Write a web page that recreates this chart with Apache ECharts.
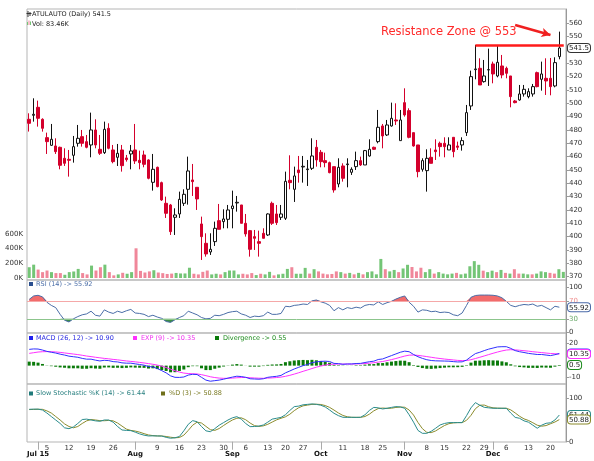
<!DOCTYPE html>
<html><head><meta charset="utf-8">
<script src="https://cdn.jsdelivr.net/npm/echarts@6/dist/echarts.min.js"></script>
<style>html,body{margin:0;padding:0;background:#fff}#c{width:594px;height:461px}</style>
</head><body><div id="c"></div>
<script>
// ---------- calendar (NSE trading days, 2015) ----------
const startDate = '2015-06-30', endDate = '2015-12-23';
const holidays = ['2015-09-17','2015-09-25','2015-10-02','2015-10-22','2015-11-12','2015-11-25'];
function tradingDays(s, e, hol) {
  const out = []; const d = new Date(s + 'T00:00:00Z'); const end = new Date(e + 'T00:00:00Z');
  while (d <= end) { const wd = d.getUTCDay(); const k = d.toISOString().slice(0, 10);
    if (wd !== 0 && wd !== 6 && hol.indexOf(k) < 0) out.push(k); d.setUTCDate(d.getUTCDate() + 1); }
  return out;
}
const dates = tradingDays(startDate, endDate, holidays);

// ---------- tick labels ----------
const weekLabels = {'2015-07-06':'5','2015-07-13':'12','2015-07-20':'19','2015-07-27':'26','2015-08-10':'9','2015-08-17':'16','2015-08-24':'23','2015-08-31':'30','2015-09-07':'6','2015-09-14':'13','2015-09-21':'20','2015-09-28':'27','2015-10-12':'11','2015-10-19':'18','2015-10-26':'25','2015-11-09':'8','2015-11-16':'15','2015-11-23':'22','2015-11-30':'29','2015-12-07':'6','2015-12-14':'13','2015-12-21':'20'};
const monthLabels = {'2015-07-02':'Jul 15','2015-08-03':'Aug','2015-09-02':'Sep','2015-10-05':'Oct','2015-11-02':'Nov','2015-12-02':'Dec'};
const priceTicks = [370,380,390,400,410,420,430,440,450,460,470,480,490,500,510,520,530,540,550,560];
const volTicks = [0,200000,400000,600000];
const rsiTicks = [0,30,70,100];
const macdTicks = [-10,0,10,20];
const stochTicks = [0,50,100];

// ---------- price (OHLC) ----------
const opens = [488,491,497,488,474.25,468.5,468,467,458.75,458,
461,470,475,471.25,468.75,480,465.5,463,481.25,465,
459.5,465,459,462,465,457.25,461.25,457.5,440.75,452,
440.5,425,423.75,414.5,417,425,435.5,442.5,437,409.5,
395,388.5,396.25,412,411.25,413,421,425.25,423.75,410,
404.5,400,396.25,402.5,401.25,425,417,414.5,413.75,442.25,
435.5,450,452.25,450.25,451.25,467,463.25,457,455.5,452.5,
439.5,453,454,448.25,452.5,457,453.75,460.5,467,471.25,
483,476.25,483,487.5,472,500.5,494.5,478,468.75,450.5,
449.5,459.5,465,470,470,465,474.5,468,468.75,478,
498,525.25,526.25,516.25,525,529.5,520.5,528,526.25,520.5,
501.75,502.5,507,505,507,523,518,518.75,518.75,513,535];
const closes = [485,491.75,488.75,481.25,471.25,473,463.75,453.5,455,457.25,
467.5,473.75,470,467,480,468.75,462.5,480.5,466.25,456.25,
462.5,453.25,457.75,464.25,456.75,455.5,454.25,443.75,450.5,437.5,
427.5,417.5,403.75,416.25,428,431.75,449.25,441.25,428.25,400,
387,390.5,406.25,405.5,413.25,420,423,425.75,410,402,
390.5,398.75,395,398.75,417,410,410.5,417,441.5,440.5,
445.5,448,452.75,450.75,460.5,457.5,456.25,455.5,448,435,
452,443.75,454.5,450.5,457,453.75,464.5,465.5,465.5,482,
475.5,483.75,488.75,486.75,487.5,491.25,474.5,468,448.75,457,
458.75,455,463.75,467.5,467.5,468.75,463.75,467,472,493,
520,525.75,513.75,520.5,525.25,522,530.75,521.25,522.5,505,
500.5,507,510.5,508.75,512.5,512.5,522,516.75,512.5,530.5,541.5];
const lows = [478.8,486.25,482.5,478.75,462,468,462,450.5,453,445,
455.5,467.5,467.5,466.25,459.5,466.25,461.25,462,465.5,455,
453,448.75,456.25,450.5,454.5,450.5,452,443,434.5,437,
426.75,414,401.25,401.25,414,423,424,430.5,420,382.5,
385,386.25,393,405.5,406.25,406.25,406.25,418.75,410,400,
385,390,385,398.75,400.5,408.75,408.75,412.5,412.5,435.5,
426,440.5,440.5,438,450,452.5,452,452,447.5,433,
437,441.25,437,446.25,450,453,453.75,460,465,470,
466.25,475.5,482.5,483.75,472,490,473.75,467.5,444.5,448.75,
433.75,455,457.5,460,459.5,465,459.5,465,464.5,475.5,
495,518,513.75,515.5,513,515,519.5,518.75,518.75,497,
500,502,505,503.75,505,512,509.5,506.25,506,512,533];
const highs = [492.5,503.75,502,488.75,478,484.5,473.75,467.5,466.25,465,
475.5,483.75,480,476.25,493,488,476.25,486.25,485,468.75,
469.5,468.75,461.25,468.75,484.5,464.5,464.5,458,462,452.5,
441.25,430,424.5,421.25,433.75,435.5,460,454.5,437,415,
402.5,402.5,411.25,424.5,420.5,423.75,434.5,430.5,423.75,417,
405,405,404.5,406.25,417.5,426.25,423.75,423.75,448.75,461,
452.5,460.5,460.5,457.5,473.75,472.5,465,463,456.25,452.5,
458.75,455,458.75,452,463.75,460,465,473,467.5,495,
484.5,487.5,500.5,500,495,511.25,496.25,478,468.75,458.75,
465.5,466.25,473,471.25,474.5,474.5,474.5,471.25,474.5,498.75,
524.5,543.75,533.75,532.5,541,531.25,543.75,536.25,527.5,520.5,
502.5,513.75,513.75,511.25,514.5,523.75,531.25,533.75,534,534.5,553.75];

// ---------- volume (thousands of shares) ----------
const volumeK = [147,182,115,80,102,80,67,67,44,80,
89,124,67,49,169,102,147,182,80,36,
49,71,58,80,405,97,75,90,106,75,
66,55,60,69,62,62,140,58,49,84,
102,49,58,49,80,102,102,49,58,49,
67,40,58,49,84,36,49,58,124,147,
58,58,138,60,120,90,60,50,55,90,
80,60,70,50,70,50,80,90,50,260,
120,90,110,80,130,180,150,90,140,80,
120,60,80,60,50,60,70,50,60,160,
230,180,100,80,100,80,110,70,60,120,
60,60,50,50,60,90,80,70,60,120,83.46];

// ---------- RSI(14) ----------
const rsi = [73.4,81,82.5,79,67,60,55,40,27,23,
30,35,39,41,47,38,36,50,45,42,
47,44,48,51,43,42,40,35,38,34,
31,24,22,28,33,37,47,43,39,33,
30,31,38,37,40,44,46,47,41,38,
33,36,35,37,45,40,40,42,58,57,
60,61,63,62,70,72,68,65,60,48,
55,50,55,53,56,54,60,62,61,68,
62,66,69,74,78,81,67,58,45,50,
49,46,47,44,45,44,39,37,43,60,
78,82,83,83,83,82.5,81,77,69,60,
57,60,62,61,63,58,60,55,50,58,55.92];

// ---------- MACD(26,12) and EXP(9) ----------
const macd = [14.6,15,14.9,14,12.8,12,11.3,10.3,9.5,8.5,
8,7.5,6.5,5.8,5.8,4.9,4.2,4.8,4.5,3.6,
3.3,2.5,2.2,2.2,1.6,1.0,0.4,-0.8,-1.2,-2.6,
-4.5,-6.5,-9.2,-10.5,-10.6,-10.2,-8.5,-7.8,-8,-10.5,
-13,-14,-13.5,-13,-12.2,-11.2,-10.3,-9.5,-9.8,-10.5,
-11.8,-12,-12.2,-11.8,-10.5,-10,-9.6,-8.8,-6.5,-4.8,
-3,-1.5,0,1,2.6,3.4,3.8,4,3.7,2,
1.8,1.2,1.5,1.5,1.9,2,2.8,3.5,4,5.5,
6,7.5,9,10.5,12,13,12.5,10,8,6.5,
5.3,4.6,4.3,4.2,4.1,4,3.6,3.3,3.4,5,
8,10.8,12,13.5,14.8,15.8,16.8,17,17,15.5,
13.5,12.5,11.8,11,10.5,10,10,9.5,9,9.8,10.9];
const signal = [11,11.6,12.2,12.5,12.6,12.5,12.3,11.9,11.4,10.9,
10.4,9.9,9.3,8.6,8.1,7.5,7,6.5,6.1,5.6,
5.2,4.7,4.2,3.8,3.4,2.9,2.4,1.8,1.2,0.5,
-0.5,-1.7,-3.2,-4.6,-5.8,-6.7,-7.1,-7.3,-7.5,-8.1,
-9,-10,-10.7,-11.2,-11.4,-11.4,-11.2,-10.9,-10.7,-10.6,
-10.9,-11.1,-11.3,-11.4,-11.2,-11,-10.7,-10.3,-9.6,-8.7,
-7.6,-6.4,-5.1,-3.9,-2.6,-1.4,-0.4,0.5,1.1,1.3,
1.4,1.4,1.4,1.4,1.5,1.6,1.9,2.2,2.6,3.2,
3.7,4.5,5.4,6.4,7.5,8.6,9.4,9.5,9.2,8.7,
8.1,7.5,6.9,6.4,5.9,5.5,5.1,4.7,4.5,4.6,
5.3,6.4,7.5,8.7,9.9,11.1,12.2,13.2,14,14.3,
14.1,13.8,13.4,13,12.5,12.1,11.7,11.3,10.9,10.7,10.35];

// ---------- Slow Stochastic ----------
const stochK = [74.6,75,75,73,66,58,50,42,32,30,
34,42,51,52,50,48,47,50,50,45,
35,27,26,25.5,22,18,15,13.2,13.5,13.2,
13,10,8,9,12,25,40,48.5,46,35,
25,23,30,38,44,50,55,57.7,52,42,
34.7,35,36,38.5,45,52,54,56,62,72,
80.8,82,85,86,87,86,84,80,73,65.4,
60,56.2,56,56.2,56,56.2,62,72,79,78,
75.4,77,79,80.8,80,77,62,45,26,19.3,
19.3,24,31,38.5,42,43.9,44,44,44,60,
78,90,84,79.2,78,77,76.9,77,76.9,66,
56,53.9,48,45,38,31,38,42.4,43.5,50,61.44];
const stochD = [74,74.3,74.7,74.5,71,66,58,50,41,35,
32,35,42,48,51,50,48.5,48.3,49,48,
43,36,29,26,24.5,22,18.5,15.5,14,13.3,
13.2,12,10.3,9,9.7,15,26,38,45,43,
35.3,27.7,26,30.3,37.3,44,50,54,55,50.6,
43,37,35.2,36.5,40,45.2,50.3,54,57.3,63.3,
71.6,78.3,82.6,84.3,86,86.3,85.7,83.3,79,72.8,
66.1,60.5,57.4,56.1,56.1,56.1,58,63.4,71,76.3,
77.5,76.8,77.1,78.9,79.9,79.3,73,61.3,44.3,30.1,
21.5,20.9,24.8,31.2,37.2,41.5,43.3,44,44,49.3,
60.7,76,84,84.4,80.4,78,77.3,77,77,73.3,
66.3,58.6,52.6,49,43.7,38,35.7,37.1,41.3,45.3,50.88];

// ---------- annotation values ----------
const lastPrice = 541.5, lastVolK = 83.46;
const resistanceStart = 101, resistanceLevel = 543.75;
const arrowFrom = [110, 558.7], arrowTo = [118, 551.2];
const rsiLast = 55.92, macdLast = 10.90, expLast = 10.35, divLast = 0.55, kLast = 61.44, dLast = 50.88;

// ---------- build ----------
const FONT = 'DejaVu Sans';
const L = 27, R = 24;
const cats = dates.concat(['pad']);
const candles = dates.map((d, i) => [opens[i], closes[i], lows[i], highs[i]]);
const RED = '#d4002c';
const volData = volumeK.map((v, i) => ({
  value: v * 1000,
  itemStyle: { color: (i === 0 || closes[i] >= closes[i - 1]) ? '#74c576' : '#f0879a' }
}));
const divergence = macd.map((v, i) => +(v - signal[i]).toFixed(2));

function xAx(gi, extra) {
  return Object.assign({ type: 'category', gridIndex: gi, data: cats, boundaryGap: true, position: 'bottom',
    axisLine: { show: false }, axisTick: { show: false }, axisLabel: { show: false }, splitLine: { show: false } }, extra || {});
}
function yAx(gi, min, max, extra) {
  return Object.assign({ type: 'value', gridIndex: gi, min: min, max: max, position: 'right', scale: true,
    splitLine: { show: false }, axisLine: { show: false }, axisTick: { show: false } }, extra || {});
}
const lbl = { fontSize: 7, fontFamily: FONT, color: '#333', margin: 3 };
function boxRich(c) { return { borderColor: c, borderWidth: 1, borderRadius: 3, padding: [1, 1, 0, 1], backgroundColor: '#fff', color: '#222', fontSize: 7, fontFamily: FONT }; }
function boxAxis(gi, min, max, value, text, color) {
  return yAx(gi, min, max, { axisLabel: { customValues: [value], margin: 2, formatter: () => '{b|' + text + '}', rich: { b: boxRich(color) } } });
}

const gridStyle = { show: true, borderColor: '#b5b5b5', borderWidth: 1, containLabel: false };
const P = [367.475, 570.725], RS = [-1.6, 116.6], MC = [-16.5, 29.3], ST = [-0.7, 132.9];
const option = {
  animation: false,
  backgroundColor: '#fff',
  grid: [
    Object.assign({ left: L, right: R, top: 9, height: 271 }, gridStyle),
    { left: L, right: R, top: 234, height: 44, show: false },
    Object.assign({ left: L, right: R, top: 280, height: 53 }, gridStyle),
    Object.assign({ left: L, right: R, top: 333, height: 51 }, gridStyle),
    Object.assign({ left: L, right: R, top: 384, height: 58 }, gridStyle)
  ],
  xAxis: [
    xAx(0), xAx(1), xAx(2), xAx(3),
    xAx(4, { axisLabel: Object.assign({ show: true, interval: (i, v) => weekLabels[v] !== undefined, formatter: (v) => weekLabels[v] || '' }, lbl, { margin: 3 }),
             axisTick: { show: true, alignWithLabel: true, interval: (i, v) => monthLabels[v] !== undefined, length: 8, lineStyle: { color: '#aaa' } } }),
    xAx(4, { position: 'bottom', offset: 7, axisLabel: Object.assign({ show: true, interval: (i, v) => monthLabels[v] !== undefined, formatter: (v) => monthLabels[v] || '' }, lbl, { fontWeight: 'bold', color: '#111', margin: 2 }) })
  ],
  yAxis: [
    yAx(0, P[0], P[1], { axisLine: { show: true, lineStyle: { color: '#999' } },
      axisTick: { show: true, length: 3, customValues: priceTicks, lineStyle: { color: '#999' } },
      axisLabel: Object.assign({ customValues: priceTicks }, lbl, { margin: 3 }) }),
    boxAxis(0, P[0], P[1], lastPrice, lastPrice.toFixed(1), '#333'),
    yAx(1, 0, 600000, { position: 'left', axisLabel: Object.assign({ customValues: volTicks, formatter: (v) => (v / 1000) + 'K' }, lbl, { margin: 4 }) }),
    yAx(2, RS[0], RS[1], { axisLine: { show: true, lineStyle: { color: '#999' } },
      axisTick: { show: true, length: 3, customValues: rsiTicks, lineStyle: { color: '#999' } },
      axisLabel: Object.assign({ customValues: rsiTicks, formatter: (v) => v === 70 ? '{r|70}' : v === 30 ? '{g|30}' : '{n|' + v + '}',
        rich: { r: { color: '#f08c8c', fontSize: 7, fontFamily: FONT }, g: { color: '#6aaa6a', fontSize: 7, fontFamily: FONT }, n: { color: '#333', fontSize: 7, fontFamily: FONT } } }, lbl) }),
    boxAxis(2, RS[0], RS[1], rsiLast, rsiLast.toFixed(2), '#4a6aa8'),
    yAx(3, MC[0], MC[1], { axisLine: { show: true, lineStyle: { color: '#999' } },
      axisTick: { show: true, length: 3, customValues: macdTicks, lineStyle: { color: '#999' } },
      axisLabel: Object.assign({ customValues: macdTicks }, lbl) }),
    boxAxis(3, MC[0], MC[1], divLast, '0.5', '#1a8a1a'),
    boxAxis(3, MC[0], MC[1], macdLast, macdLast.toFixed(2), '#3333ff'),
    boxAxis(3, MC[0], MC[1], expLast, expLast.toFixed(2), '#ff33ff'),
    yAx(4, ST[0], ST[1], { axisLine: { show: true, lineStyle: { color: '#999' } },
      axisTick: { show: true, length: 3, customValues: stochTicks, lineStyle: { color: '#999' } },
      axisLabel: Object.assign({ customValues: stochTicks }, lbl) }),
    boxAxis(4, ST[0], ST[1], kLast, kLast.toFixed(2), '#2a8a8a'),
    boxAxis(4, ST[0], ST[1], dLast, dLast.toFixed(2), '#8a8a2a')
  ],
  series: [
    { type: 'bar', name: 'Vol', xAxisIndex: 1, yAxisIndex: 2, data: volData, barWidth: 3, z: 1, silent: true },
    { type: 'candlestick', name: 'ATULAUTO', xAxisIndex: 0, yAxisIndex: 0, data: candles, barWidth: 3, z: 3,
      itemStyle: { color: '#fff', color0: RED, borderColor: '#111', borderColor0: RED, borderWidth: 1 },
      markLine: { silent: true, animation: false, label: { show: false }, symbol: ['none', 'none'],
        data: [
          [{ coord: [dates[resistanceStart], resistanceLevel], lineStyle: { color: '#ff1a1a', width: 2.5, type: 'solid' } }, { coord: ['pad', resistanceLevel] }],
          [{ coord: [arrowFrom[0], arrowFrom[1]], symbol: 'none', lineStyle: { color: '#f02020', width: 2.5, type: 'solid' } }, { coord: [arrowTo[0], arrowTo[1]], symbol: 'arrow', symbolSize: [7, 9] }]
        ] } },
    { type: 'line', xAxisIndex: 2, yAxisIndex: 3, data: rsi.map(v => Math.max(v, 70)), symbol: 'none', silent: true,
      lineStyle: { width: 0, opacity: 0 }, areaStyle: { origin: 70, color: '#f26b6b', opacity: 1 }, z: 2 },
    { type: 'line', xAxisIndex: 2, yAxisIndex: 3, data: rsi.map(v => Math.min(v, 30)), symbol: 'none', silent: true,
      lineStyle: { width: 0, opacity: 0 }, areaStyle: { origin: 30, color: '#3c8c46', opacity: 1 }, z: 2 },
    { type: 'line', name: 'RSI', xAxisIndex: 2, yAxisIndex: 3, data: rsi, symbol: 'none', silent: true, z: 4,
      lineStyle: { color: '#4b6ea8', width: 1 },
      markLine: { silent: true, symbol: ['none', 'none'], label: { show: false },
        data: [{ yAxis: 70, lineStyle: { color: '#f5a8a8', width: 1, type: 'solid' } }, { yAxis: 30, lineStyle: { color: '#8cc58c', width: 1, type: 'solid' } }] } },
    { type: 'bar', name: 'Divergence', xAxisIndex: 3, yAxisIndex: 5, data: divergence, barWidth: 3, silent: true, itemStyle: { color: '#0a7a0a' }, z: 2 },
    { type: 'line', name: 'MACD', xAxisIndex: 3, yAxisIndex: 5, data: macd, symbol: 'none', silent: true, lineStyle: { color: '#3030ff', width: 1 }, z: 4 },
    { type: 'line', name: 'EXP', xAxisIndex: 3, yAxisIndex: 5, data: signal, symbol: 'none', silent: true, lineStyle: { color: '#ff30ff', width: 1 }, z: 3 },
    { type: 'line', name: '%K', xAxisIndex: 4, yAxisIndex: 9, data: stochK, symbol: 'none', silent: true, lineStyle: { color: '#2a8c8c', width: 1 }, z: 4 },
    { type: 'line', name: '%D', xAxisIndex: 4, yAxisIndex: 9, data: stochD, symbol: 'none', silent: true, lineStyle: { color: '#8c8c2c', width: 1 }, z: 3 }
  ],
  graphic: []
};

// legends / texts
function txt(x, y, s, color, size, weight) {
  return { type: 'text', left: x, top: y, silent: true, style: { text: s, fill: color, font: (weight || 'normal') + ' ' + (size || 6.5) + 'px "' + FONT + '"' } };
}
function sq(x, y, color) { return { type: 'rect', left: x, top: y, silent: true, shape: { width: 4, height: 4 }, style: { fill: color } }; }
const G = option.graphic;
const LF = 6.5;
G.push({ type: 'rect', left: 27.5, top: 11, silent: true, shape: { width: 1, height: 6 }, style: { fill: '#333' } });
G.push({ type: 'rect', left: 29.5, top: 12, silent: true, shape: { width: 1, height: 4 }, style: { fill: '#333' } });
G.push({ type: 'rect', left: 26.5, top: 13, silent: true, shape: { width: 5, height: 1 }, style: { fill: '#333' } });
G.push(txt(32, 10.5, 'ATULAUTO (Daily) ' + lastPrice, '#222', LF));
G.push({ type: 'rect', left: 27, top: 22, silent: true, shape: { width: 1, height: 3 }, style: { fill: '#74c576' } });
G.push({ type: 'rect', left: 28.5, top: 20.5, silent: true, shape: { width: 1, height: 4.5 }, style: { fill: '#f0879a' } });
G.push({ type: 'rect', left: 30, top: 21.5, silent: true, shape: { width: 1, height: 3.5 }, style: { fill: '#74c576' } });
G.push(txt(32, 20.5, 'Vol: ' + lastVolK + 'K', '#222', LF));
G.push(txt(381, 26, 'Resistance Zone @ 553', '#ff2a2a', 11.5));
G.push(sq(29, 282, '#2a4f8f'));
G.push(txt(36, 280.8, 'RSI (14) -> ' + rsiLast.toFixed(2), '#4b6ea8', LF));
G.push(sq(29, 336, '#2020ee'));
G.push(txt(36, 334.8, 'MACD (26, 12) -> ' + macdLast.toFixed(2), '#2a2ae0', LF));
G.push(sq(133, 336, '#ff30ff'));
G.push(txt(141, 334.8, 'EXP (9) -> ' + expLast.toFixed(2), '#f030f0', LF));
G.push(sq(215, 336, '#0a7a0a'));
G.push(txt(223, 334.8, 'Divergence -> ' + divLast.toFixed(2), '#1a8a1a', LF));
G.push(sq(29, 391.5, '#1f7a7a'));
G.push(txt(36, 390.3, 'Slow Stochastic %K (14) -> ' + kLast.toFixed(2), '#2a8080', LF));
G.push(sq(161, 391.5, '#6f6f1a'));
G.push(txt(169, 390.3, '%D (3) -> ' + dLast.toFixed(2), '#7a7a22', LF));

const chart = echarts.init(document.getElementById('c'), null, { renderer: 'canvas', width: 594, height: 461 });
chart.setOption(option);
</script>
</body></html>
